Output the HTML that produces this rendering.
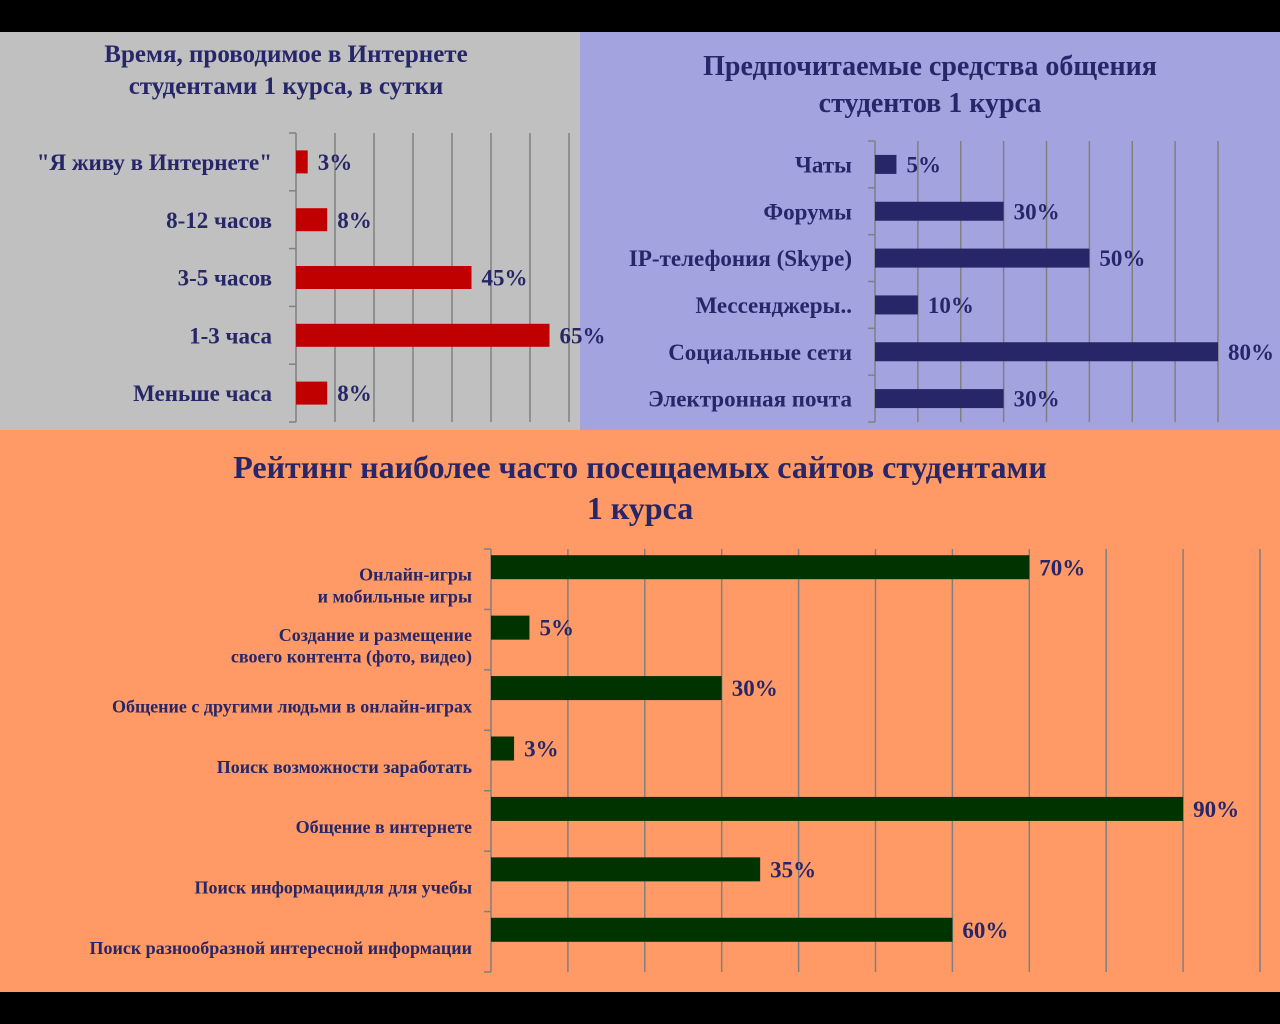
<!DOCTYPE html>
<html><head><meta charset="utf-8">
<style>
html,body{margin:0;padding:0;background:#000;}
svg{display:block;font-family:"Liberation Serif","Noto Serif CJK SC",serif;font-weight:bold;}
</style></head>
<body>
<svg id="s" width="1280" height="1024" viewBox="0 0 1280 1024" xmlns="http://www.w3.org/2000/svg">
<rect x="0" y="0" width="1280" height="1024" fill="#000"/>
<rect x="0" y="32" width="580" height="398" fill="#c0c0c0"/>
<rect x="580" y="32" width="700" height="398" fill="#a3a3df"/>
<rect x="0" y="430" width="1280" height="562" fill="#ff9966"/>
<g fill="#262668" text-anchor="middle">
<text x="286" y="62" font-size="25">Время, проводимое в Интернете</text>
<text x="286" y="94" font-size="25">студентами 1 курса, в сутки</text>
<text x="930" y="75" font-size="28">Предпочитаемые средства общения</text>
<text x="930" y="112" font-size="28">студентов 1 курса</text>
<text x="640" y="478" font-size="32">Рейтинг наиболее часто посещаемых сайтов студентами</text>
<text x="640" y="519" font-size="32">1 курса</text>
</g>
<g id="c1"></g><g id="c2"></g><g id="c3"></g>
</svg>
<script>
const c1Categories = ['"Я живу в Интернете"','8-12 часов','3-5 часов','1-3 часа','Меньше часа'];
const c1Values = [3,8,45,65,8];
const c1Labels = ['3%','8%','45%','65%','8%'];
const c2Categories = ['Чаты','Форумы','IP-телефония  (Skype)','Мессенджеры..','Социальные сети','Электронная почта'];
const c2Values = [5,30,50,10,80,30];
const c2Labels = ['5%','30%','50%','10%','80%','30%'];
const c3Categories = [['Онлайн-игры','и мобильные игры'],['Создание и размещение','своего контента  (фото, видео)'],['Общение с другими людьми в онлайн-играх'],['Поиск возможности заработать'],['Общение в интернете '],['Поиск информациидля для учебы'],['Поиск разнообразной интересной  информации']];
const c3Values = [70,5,30,3,90,35,60];
const c3Labels = ['70%','5%','30%','3%','90%','35%','60%'];

const NS='http://www.w3.org/2000/svg';
function mk(parent,tag,attrs){const e=document.createElementNS(NS,tag);for(const k in attrs)e.setAttribute(k,attrs[k]);parent.appendChild(e);return e;}

function chart(g,o){
  const n=o.cats.length, band=(o.y1-o.y0)/n;
  const xs=v=>o.x0+(v/o.max)*(o.x1-o.x0);
  for(let t=o.step;t<=o.max;t+=o.step){
    const gl=mk(g,'line',{x1:xs(t),x2:xs(t),y1:o.y0,y2:o.y1,stroke:'#808080','stroke-width':1.5});
    
    
  }
  const ax=mk(g,'line',{x1:o.x0,x2:o.x0,y1:o.y0,y2:o.y1,stroke:'#808080','stroke-width':1.5});
  
  
  for(let i=0;i<=n;i++){
    const tk=mk(g,'line',{x1:o.x0-7,x2:o.x0,y1:o.y0+i*band,y2:o.y0+i*band,stroke:'#808080','stroke-width':1.5});
    
    
  }
  o.cats.forEach((c,i)=>{
    const cy=o.y0+band*(i+0.5);
    const w=xs(o.vals[i])-o.x0;
    const b=mk(g,'rect',{x:o.x0,y:cy-o.bh/2+o.boff,width:w,height:o.bh,fill:o.color});
    
    
    const vl=mk(g,'text',{x:o.x0+w+o.vpad,y:cy+o.boff+o.fs*0.35,'font-size':o.fs,fill:'#262668'});
    vl.textContent=o.labels[i];
    
    
    const lines=Array.isArray(c)?c:[c];
    const lt=mk(g,'text',{'text-anchor':'end','font-size':o.lfs,fill:'#262668'});
    
    
    const lh=o.lfs*1.2, top=cy+o.loff-(lines.length-1)*lh/2+o.lfs*0.35;
    lines.forEach((ln,j)=>{const ts=mk(lt,'tspan',{x:o.lx,y:top+j*lh});ts.textContent=ln;});
  });
}
chart(document.getElementById('c1'),{id:'time',cats:c1Categories,vals:c1Values,labels:c1Labels,x0:296,x1:569,max:70,step:10,y0:133,y1:422,bh:23,boff:0,color:'#c00000',fs:23,vpad:10,lfs:23,lx:272,loff:0});
chart(document.getElementById('c2'),{id:'comm',cats:c2Categories,vals:c2Values,labels:c2Labels,x0:875,x1:1218,max:80,step:10,y0:141,y1:422,bh:19,boff:0,color:'#262668',fs:23,vpad:10,lfs:23,lx:852,loff:0});
chart(document.getElementById('c3'),{id:'sites',cats:c3Categories,vals:c3Values,labels:c3Labels,x0:491,x1:1260,max:100,step:10,y0:549,y1:972,bh:24,boff:-12,color:'#003300',fs:23,vpad:10,lfs:18,lx:472,loff:6});
</script>
</body></html>
